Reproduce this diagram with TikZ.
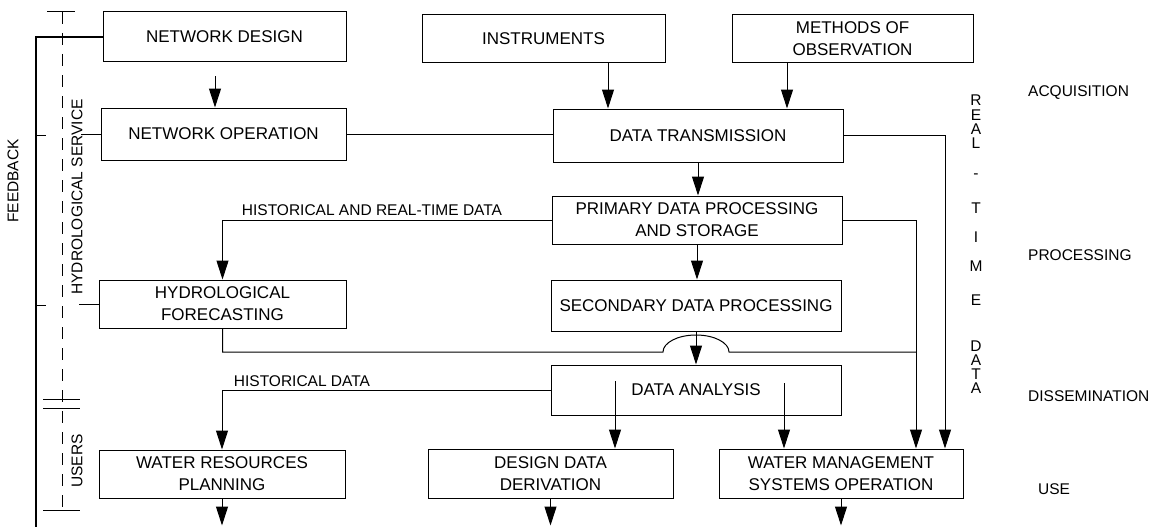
\documentclass[tikz,border=0pt]{standalone}
\usepackage{fontspec}
\setmainfont{Liberation Sans}
\usetikzlibrary{
		arrows.meta,
		calc,
		positioning
	}
\tikzset{
		>={Triangle[length=19pt,width=12pt]},
		box/.style={draw,line width=1pt,inner sep=0pt,align=center,
			font=\fontsize{17}{22}\selectfont},
		wire/.style={line width=1pt},
		arr/.style={wire,->},
		fbline/.style={line width=2.6pt},
		lbl/.style={inner sep=0pt,font=\fontsize{15.5}{18}\selectfont}
	}

\begin{document}
\begin{tikzpicture}[x=1pt,y=-1pt]
          \useasboundingbox (0,0) rectangle (1161,527);

          % boxes
          \node[box,minimum width=243pt,minimum height=50pt] (ND) at (224.5,37) {NETWORK DESIGN};
          \node[box,minimum width=245pt,minimum height=52pt] (NO) at (223.5,134) {NETWORK OPERATION};
          \node[box,minimum width=247pt,minimum height=48pt] (HF) at (222.5,304) {HYDROLOGICAL\\FORECASTING};
          \node[box,minimum width=246pt,minimum height=48pt] (WR) at (222,474) {WATER RESOURCES\\PLANNING};
          \node[box,minimum width=243pt,minimum height=48pt] (INS) at (543.5,39) {INSTRUMENTS};
          \node[box,minimum width=241pt,minimum height=48pt] (MO) at (852.5,39) {METHODS OF\\OBSERVATION};
          \node[box,minimum width=290pt,minimum height=53pt] (DT) at (698,135.5) {DATA TRANSMISSION};
          \node[box,minimum width=290pt,minimum height=48pt] (PDP) at (697,220) {PRIMARY DATA PROCESSING\\AND STORAGE};
          \node[box,minimum width=290pt,minimum height=51pt] (SDP) at (696,305.5) {SECONDARY DATA PROCESSING};
          \node[box,minimum width=290pt,minimum height=50pt] (DA) at (696,390) {DATA ANALYSIS};
          \node[box,minimum width=245pt,minimum height=49pt] (DDD) at (550.5,473.5) {DESIGN DATA\\DERIVATION};
          \node[box,minimum width=244pt,minimum height=49pt] (WMS) at (841,473.5) {WATER MANAGEMENT\\SYSTEMS OPERATION};

          % side labels
          \node[lbl,rotate=90] (fb) at (13,181) {FEEDBACK};
          \node[lbl,rotate=90] (hs) at (77,197) {HYDROLOGICAL SERVICE};
          \node[lbl,rotate=90] (usr) at (77,461) {USERS};
          \node[lbl,anchor=west] (acq) at (1028,93) {ACQUISITION};
          \node[lbl,anchor=west] (proc) at (1028,255) {PROCESSING};
          \node[lbl,anchor=west] (diss) at (1028,396) {DISSEMINATION};
          \node[lbl,anchor=west] (use) at (1038,489) {USE};
          \foreach \ch/\yy [count=\i] in {R/100,E/115,A/129,L/143,-/176,T/208,I/237,M/266,E/300,D/346,A/360,T/374,A/388}
            \node[lbl] (rt\i) at (976,\yy) {\ch};

          % feedback and service brackets
          \coordinate (fbend) at (36,527);
          \draw[fbline] (ND.west) -| (fbend);
          \draw[wire] (36,135) -- (46,135);
          \draw[wire] (36,305) -- (46,305);
          \draw[wire] (NO.west) -- ++(-20,0);
          \draw[wire] (HF.west) -- ++(-20,0);
          \draw[wire,dash pattern=on 12pt off 9pt] (62,12) -- (62,510);
          \draw[wire] (47,12) -- (75,12);
          \draw[wire] (43,399) -- (80,399);
          \draw[wire] (43,408) -- (80,408);
          \draw[wire] (43,510) -- (80,510);

          % acquisition
          \coordinate (ndout) at (215,76);
          \coordinate (insout) at ([xshift=64.5pt]INS.south);
          \coordinate (moout) at ([xshift=-65.5pt]MO.south);
          \draw[arr] (ndout) -- (ndout |- NO.north);
          \draw[arr] (insout) -- (insout |- DT.north);
          \draw[arr] (moout) -- (moout |- DT.north);
          \draw[wire] (NO.east) -- (NO.east -| DT.west);

          % processing chain
          \draw[arr] (DT.south) -- (DT.south |- PDP.north);
          \draw[arr] (PDP.south) -- (PDP.south |- SDP.north);
          \draw[arr] (SDP.south) -- (SDP.south |- DA.north);

          % real-time data to water management
          \coordinate (rtx1) at (945,0);
          \coordinate (rtx2) at (916,0);
          \draw[arr] (DT.east) -| (rtx1 |- WMS.north);
          \draw[arr] (PDP.east) -| (rtx2 |- WMS.north);

          % historical data
          \draw[arr] (PDP.west) -| (HF.north);
          \node[lbl] (hrt) at (372,210) {HISTORICAL AND REAL-TIME DATA};
          \coordinate (hop) at (663,352);
          \draw[wire] (HF.south) |- (hop) arc[start angle=180,end angle=0,x radius=33pt,y radius=17pt] -- (hop -| rtx2);
          \draw[arr] (DA.west) -| (WR.north);
          \node[lbl] (hd) at (302,381) {HISTORICAL DATA};

          % use
          \coordinate (da1) at (615,381);
          \coordinate (da2) at (784,383);
          \draw[arr] (da1) -- (da1 |- DDD.north);
          \draw[arr] (da2) -- (da2 |- WMS.north);
          \draw[arr] (WR.south) -- ++(0,27);
          \draw[arr] (DDD.south) -- ++(0,27);
          \draw[arr] (WMS.south) -- ++(0,27);

\end{tikzpicture}
\end{document}
